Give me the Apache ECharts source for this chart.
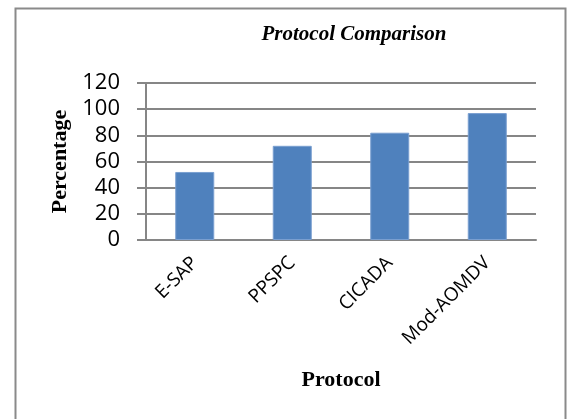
<!DOCTYPE html>
<html><head><meta charset="utf-8">
<script src="https://cdn.jsdelivr.net/npm/echarts@6/dist/echarts.min.js"></script>
<style>html,body{margin:0;padding:0;background:#fff}#c{width:570px;height:419px}</style>
</head><body><div id="c"></div>
<script>
const categories = ["E-SAP", "PPSPC", "CICADA", "Mod-AOMDV"];
const values = [52, 72, 82, 97];
const yTicks = [0, 20, 40, 60, 80, 100, 120];

const chart = echarts.init(document.getElementById('c'), null, {renderer: 'canvas'});
chart.setOption({
  animation: false,
  backgroundColor: '#fff',
  graphic: [{
    type: 'rect', left: 13, top: 6,
    shape: {width: 550, height: 420},
    style: {fill: 'none', stroke: '#8a8a8a', lineWidth: 2}
  }],
  title: {
    text: 'Protocol Comparison', left: 349, top: 19, textAlign: 'center',
    textStyle: {fontFamily: 'Liberation Serif', fontStyle: 'italic', fontWeight: 'bold', fontSize: 21, color: '#000'}
  },
  grid: {left: 146, right: 34, top: 83, bottom: 179, containLabel: false},
  xAxis: {
    type: 'category', data: categories,
    name: 'Protocol', nameLocation: 'middle', nameGap: 129,
    nameTextStyle: {fontFamily: 'Liberation Serif', fontWeight: 'bold', fontSize: 22, color: '#000'},
    axisLine: {lineStyle: {color: '#868686', width: 2}},
    axisTick: {show: false},
    axisLabel: {rotate: 45, margin: 20, fontFamily: 'Open Sans', fontSize: 19, color: '#000', interval: 0}
  },
  yAxis: {
    type: 'value', min: yTicks[0], max: yTicks[yTicks.length - 1], interval: 20,
    name: 'Percentage', nameLocation: 'middle', nameGap: 74,
    nameTextStyle: {fontFamily: 'Liberation Serif', fontWeight: 'bold', fontSize: 22, color: '#000'},
    axisLine: {show: true, lineStyle: {color: '#868686', width: 2}},
    axisTick: {show: true, length: 9, lineStyle: {color: '#868686', width: 2}},
    axisLabel: {margin: 26, fontFamily: 'Open Sans', fontSize: 22, color: '#000'},
    splitLine: {lineStyle: {color: '#868686', width: 2}}
  },
  series: [{
    type: 'bar', data: values, barCategoryGap: '60%',
    itemStyle: {color: '#4F81BD', borderColor: '#7a9fd0', borderWidth: 1}
  }]
});
</script></body></html>
